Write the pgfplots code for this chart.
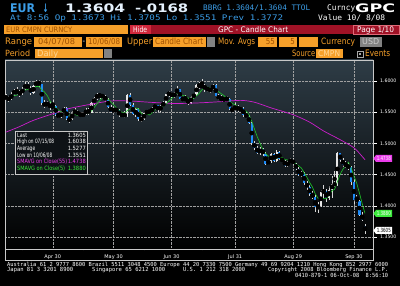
\documentclass[border=0pt]{standalone}
\usepackage{fontspec}
\setmainfont{DejaVu Sans}
\newfontfamily\bbm{DejaVu Sans Mono}
\usepackage{graphicx}
\usepackage{pgfplots}
\pgfplotsset{compat=1.18}
\usepackage{pgfplotstable}

\definecolor{bbblue}{RGB}{60,158,232}
\definecolor{bbwhite}{RGB}{228,240,252}
\definecolor{bbor}{RGB}{246,160,42}
\definecolor{bbortxt}{RGB}{160,80,0}
\definecolor{bbltxt}{RGB}{255,215,150}
\definecolor{bbred}{RGB}{160,18,38}
\definecolor{bbhide}{RGB}{210,40,60}
\definecolor{bbgray}{RGB}{130,130,130}
\definecolor{cblue}{RGB}{30,140,250}
\definecolor{cwhite}{RGB}{232,232,232}
\definecolor{cwick}{RGB}{215,215,215}
\definecolor{smaA}{RGB}{205,30,205}
\definecolor{smaB}{RGB}{30,200,40}
\definecolor{legA}{RGB}{235,60,235}
\definecolor{legB}{RGB}{60,235,60}
\definecolor{bgtop}{RGB}{46,60,70}
\definecolor{bgmid}{RGB}{26,34,40}
\definecolor{gridc}{RGB}{160,160,160}
\definecolor{framec}{RGB}{200,200,200}
\definecolor{legbg}{RGB}{14,18,22}

\newcommand\T[6]{\node[anchor=base west,inner sep=0pt,text=#5] at (#1,#2) {\resizebox{#3pt}{#4pt}{#6}};}
\newcommand\TR[6]{\node[anchor=base east,inner sep=0pt,text=#5] at (#1,#2) {\resizebox{#3pt}{#4pt}{#6}};}

\pgfplotstableread{
i o h l c s
0 1.5745 1.5790 1.5690 1.5725 1.5742
1 1.5725 1.5760 1.5670 1.5705 1.5735
2 1.5705 1.5820 1.5690 1.5795 1.5742
3 1.5795 1.5880 1.5760 1.5845 1.5764
4 1.5845 1.5910 1.5770 1.5805 1.5775
5 1.5805 1.5850 1.5750 1.5810 1.5792
6 1.5810 1.5900 1.5780 1.5870 1.5825
7 1.5870 1.5985 1.5850 1.5950 1.5856
8 1.5950 1.5980 1.5840 1.5885 1.5864
9 1.5885 1.5920 1.5780 1.5815 1.5866
10 1.5815 1.5940 1.5800 1.5915 1.5887
11 1.5915 1.6019 1.5900 1.6000 1.5913
12 1.6000 1.6015 1.5900 1.5945 1.5912
13 1.5945 1.5960 1.5610 1.5640 1.5863
14 1.5640 1.5690 1.5560 1.5615 1.5823
15 1.5615 1.5680 1.5590 1.5630 1.5766
16 1.5630 1.5670 1.5540 1.5570 1.5680
17 1.5570 1.5700 1.5550 1.5600 1.5611
18 1.5600 1.5620 1.5440 1.5455 1.5574
19 1.5455 1.5520 1.5400 1.5430 1.5537
20 1.5430 1.5510 1.5410 1.5490 1.5509
21 1.5490 1.5590 1.5470 1.5565 1.5508
22 1.5565 1.5580 1.5370 1.5390 1.5466
23 1.5390 1.5430 1.5330 1.5385 1.5452
24 1.5385 1.5520 1.5370 1.5485 1.5463
25 1.5485 1.5560 1.5460 1.5510 1.5467
26 1.5510 1.5530 1.5440 1.5470 1.5448
27 1.5470 1.5510 1.5420 1.5445 1.5459
28 1.5445 1.5500 1.5420 1.5475 1.5477
29 1.5475 1.5560 1.5450 1.5540 1.5488
30 1.5540 1.5560 1.5460 1.5495 1.5485
31 1.5495 1.5665 1.5480 1.5645 1.5520
32 1.5645 1.5750 1.5620 1.5730 1.5577
33 1.5730 1.5815 1.5700 1.5770 1.5636
34 1.5770 1.5800 1.5720 1.5775 1.5683
35 1.5775 1.5790 1.5720 1.5745 1.5733
36 1.5745 1.5780 1.5670 1.5700 1.5744
37 1.5700 1.5720 1.5570 1.5590 1.5716
38 1.5590 1.5610 1.5480 1.5505 1.5663
39 1.5505 1.5580 1.5490 1.5550 1.5618
40 1.5550 1.5570 1.5490 1.5530 1.5575
41 1.5530 1.5550 1.5420 1.5450 1.5525
42 1.5450 1.5500 1.5420 1.5460 1.5499
43 1.5460 1.5520 1.5400 1.5440 1.5486
44 1.5440 1.5790 1.5420 1.5770 1.5530
45 1.5770 1.5810 1.5600 1.5620 1.5548
46 1.5620 1.5640 1.5450 1.5465 1.5551
47 1.5465 1.5560 1.5430 1.5545 1.5568
48 1.5545 1.5560 1.5360 1.5385 1.5557
49 1.5385 1.5440 1.5340 1.5395 1.5482
50 1.5395 1.5500 1.5370 1.5480 1.5454
51 1.5480 1.5540 1.5450 1.5525 1.5466
52 1.5525 1.5550 1.5470 1.5495 1.5456
53 1.5495 1.5590 1.5480 1.5575 1.5494
54 1.5575 1.5630 1.5550 1.5610 1.5537
55 1.5610 1.5620 1.5510 1.5530 1.5547
56 1.5530 1.5620 1.5510 1.5595 1.5561
57 1.5595 1.5680 1.5580 1.5655 1.5593
58 1.5655 1.5800 1.5640 1.5790 1.5636
59 1.5790 1.5840 1.5750 1.5805 1.5675
60 1.5805 1.5830 1.5730 1.5760 1.5721
61 1.5760 1.5830 1.5720 1.5800 1.5762
62 1.5800 1.5915 1.5780 1.5865 1.5804
63 1.5865 1.5880 1.5690 1.5715 1.5789
64 1.5715 1.5740 1.5680 1.5710 1.5770
65 1.5710 1.5770 1.5680 1.5705 1.5759
66 1.5705 1.5720 1.5620 1.5645 1.5728
67 1.5645 1.5770 1.5630 1.5750 1.5705
68 1.5750 1.5810 1.5720 1.5780 1.5718
69 1.5780 1.5960 1.5760 1.5935 1.5763
70 1.5935 1.5980 1.5880 1.5910 1.5804
71 1.5910 1.6038 1.5890 1.5925 1.5860
72 1.5925 1.5960 1.5830 1.5880 1.5886
73 1.5880 1.5910 1.5830 1.5860 1.5902
74 1.5860 1.5900 1.5810 1.5865 1.5888
75 1.5865 1.5960 1.5850 1.5935 1.5893
76 1.5935 1.5950 1.5740 1.5760 1.5860
77 1.5760 1.5790 1.5690 1.5720 1.5828
78 1.5720 1.5770 1.5680 1.5700 1.5796
79 1.5700 1.5740 1.5670 1.5710 1.5765
80 1.5710 1.5760 1.5680 1.5705 1.5719
81 1.5705 1.5720 1.5530 1.5550 1.5677
82 1.5550 1.5590 1.5500 1.5525 1.5638
83 1.5525 1.5640 1.5510 1.5600 1.5618
84 1.5600 1.5610 1.5510 1.5530 1.5582
85 1.5530 1.5590 1.5500 1.5560 1.5553
86 1.5560 1.5580 1.5430 1.5460 1.5535
87 1.5460 1.5500 1.5400 1.5430 1.5516
88 1.5430 1.5460 1.5310 1.5330 1.5462
89 1.5330 1.5350 1.4980 1.5005 1.5357
90 1.5005 1.5040 1.4900 1.4925 1.5230
91 1.4925 1.4960 1.4830 1.4850 1.5108
92 1.4850 1.4940 1.4820 1.4910 1.5004
93 1.4910 1.4930 1.4800 1.4830 1.4904
94 1.4830 1.4860 1.4660 1.4675 1.4838
95 1.4675 1.4740 1.4650 1.4715 1.4796
96 1.4715 1.4840 1.4690 1.4825 1.4791
97 1.4825 1.4850 1.4700 1.4725 1.4754
98 1.4725 1.4890 1.4700 1.4860 1.4760
99 1.4860 1.4880 1.4730 1.4750 1.4775
100 1.4750 1.4770 1.4700 1.4725 1.4777
101 1.4725 1.4740 1.4620 1.4645 1.4741
102 1.4645 1.4720 1.4620 1.4700 1.4736
103 1.4700 1.4760 1.4680 1.4740 1.4712
104 1.4740 1.4760 1.4650 1.4670 1.4696
105 1.4670 1.4690 1.4570 1.4595 1.4670
106 1.4595 1.4620 1.4480 1.4500 1.4641
107 1.4500 1.4560 1.4460 1.4520 1.4605
108 1.4520 1.4540 1.4340 1.4360 1.4529
109 1.4360 1.4400 1.4260 1.4295 1.4454
110 1.4295 1.4330 1.4160 1.4185 1.4372
111 1.4185 1.4240 1.4110 1.4140 1.4300
112 1.4140 1.4170 1.3900 1.3980 1.4192
113 1.3980 1.4060 1.3890 1.4000 1.4120
114 1.4000 1.4250 1.3980 1.4220 1.4105
115 1.4220 1.4330 1.4130 1.4245 1.4117
116 1.4245 1.4270 1.4060 1.4120 1.4113
117 1.4120 1.4320 1.4090 1.4260 1.4169
118 1.4260 1.4480 1.4120 1.4350 1.4239
119 1.4350 1.4560 1.4300 1.4340 1.4263
120 1.4340 1.4865 1.4320 1.4840 1.4382
121 1.4840 1.4850 1.4700 1.4735 1.4505
122 1.4735 1.4770 1.4630 1.4660 1.4585
123 1.4660 1.4720 1.4610 1.4640 1.4643
124 1.4640 1.4680 1.4580 1.4620 1.4699
125 1.4620 1.4640 1.4340 1.4375 1.4606
126 1.4375 1.4420 1.4030 1.4095 1.4478
127 1.4095 1.4180 1.4050 1.4080 1.4362
128 1.4080 1.4100 1.3830 1.3850 1.4204
129 1.3850 1.3900 1.3750 1.3772 1.4034
130 1.3673 1.3705 1.3551 1.3605 1.3880
}\candles

\pgfplotstableread{
i v
0 1.518
5 1.527
10 1.537
18 1.549
23 1.556
31 1.563
38 1.568
45 1.568
52 1.566
61 1.564
70 1.565
78 1.567
85 1.569
90 1.566
96 1.557
104 1.546
110 1.534
115 1.520
121 1.506
126 1.493
129 1.479
130 1.4738
}\smaL

\begin{document}
\begin{tikzpicture}[x=1pt,y=1pt]
\useasboundingbox (0,0) rectangle (400,286);
\fill[black] (0,0) rectangle (400,286);

\begin{scope}[shift={(0,286)}, yscale=-1]
% ---- header row 1
\T{10}{12.7}{25}{8.7}{bbblue}{\bfseries EUR}
\T{42.5}{12.2}{6}{8.5}{bbblue}{\bfseries ↓}
\T{65}{12.7}{60}{8.7}{bbwhite}{\bfseries 1.3604}
\T{135}{12.7}{53}{8.7}{bbwhite}{\bfseries -.0168}
\T{203}{10.2}{107}{5.6}{bbblue}{\bbm BBRG 1.3604/1.3604 TTOL}
\T{327}{10.2}{28}{5.8}{white}{\bbm Curncy}
\T{355}{12.7}{40}{8.7}{white}{\bfseries GPC}
% ---- header row 2
\T{10}{20.8}{273}{5.8}{bbblue}{\bbm At 8:56 Op 1.3673 Hi 1.3705 Lo 1.3551 Prev 1.3772}
\T{318}{20.8}{67}{5.8}{white}{\bbm Value 10/ 8/08}
% ---- header row 3
\fill[bbor] (4,25) rectangle (128,34.5);
\T{6}{32.4}{66}{5.5}{bbortxt}{EUR CMPN CURNCY}
\fill[bbhide] (129.5,25) rectangle (151,34.5);
\T{133}{32.4}{14}{5.8}{white}{Hide}
\fill[bbred] (151,25) rectangle (400,34.5);
\T{218}{32.4}{70}{5.8}{white}{GPC - Candle Chart}
\draw[bbhide!70!white, line width=0.5pt] (353,25.5) rectangle (399.5,34);
\T{357}{32.4}{37}{5.8}{white}{Page 1/10}
% ---- header row 4
\T{5}{45}{27}{6.5}{bbor}{Range}
\fill[bbor] (34,37) rectangle (82,47);
\T{38}{45}{37}{6}{bbortxt}{04/07/08}
\node[text=white, inner sep=0pt, font=\fontsize{7}{7}\selectfont] at (84,42) {-};
\fill[bbor] (86,37) rectangle (122,47);
\T{88}{45}{32}{6}{bbortxt}{10/06/08}
\T{127}{45}{25}{6.5}{bbor}{Upper}
\fill[bbor] (153,37) rectangle (206,47);
\T{155}{45}{48}{6.5}{bbortxt}{Candle Chart}
\fill[bbgray] (206.5,37) rectangle (215,47);
\T{218}{45}{37}{6.5}{bbor}{Mov. Avgs}
\fill[bbor] (258,37) rectangle (277,47);
\TR{275}{45}{9}{6}{bbortxt}{55}
\fill[bbor] (279,37) rectangle (297,47);
\TR{295}{45}{4.5}{6}{bbortxt}{5}
\fill[bbor] (299,37) rectangle (318,47);
\T{321}{45}{34}{6.5}{bbor}{Currency}
\fill[bbgray] (360,37) rectangle (382,47);
\T{362}{45}{17}{6}{gray!40}{USD}
% ---- header row 5
\T{5}{56.8}{25}{6.5}{bbor}{Period}
\fill[bbor] (35,49) rectangle (103,58.5);
\T{37}{56.8}{21}{6.5}{bbltxt}{Daily}
\fill[bbgray] (104,49) rectangle (112,58.5);
\T{292}{56.8}{23}{6.5}{bbor}{Source}
\fill[bbor] (316,49) rectangle (343,58.5);
\T{318}{56.8}{22}{6}{bbltxt}{CMPN}
\draw[gray!70, line width=0.6pt, fill=black] (357,51) rectangle (363,57);
\fill[gray!70] (358.7,52.7) rectangle (361.3,55.3);
\T{365}{56.8}{25}{6.5}{bbor}{Events}
\end{scope}

% ---- chart
\begin{axis}[
  at={(5pt,37pt)}, anchor=south west,
  scale only axis, width=368pt, height=189pt,
  xmin=-0.3, xmax=132.9, ymin=1.3308, ymax=1.6337,
  axis background/.style={shade, top color=bgtop, middle color=bgmid, bottom color=black},
  axis line style={draw=framec, line width=0.6pt},
  xmajorgrids, ymajorgrids,
  major grid style={draw=gridc, densely dotted, line width=0.45pt},
  xtick={17,39,60,83,104,126},
  xticklabels={Apr 30,May 30,Jun 30,Jul 31,Aug 29,Sep 30},
  minor xtick={6,28,50,71,94,115},
  ytick={1.35,1.40,1.45,1.50,1.55,1.60},
  yticklabels={1.3500,1.4000,1.4500,1.5000,1.5500,1.6000},
  yticklabel pos=right, ytick pos=right, xtick pos=bottom,
  tick align=outside,
  major tick length=3.5pt,
  minor tick length=1.5pt,
  major x tick style={draw=none},
  minor x tick style={draw=framec, line width=0.5pt},
  ytick style={draw=white, line width=0.5pt},
  ticklabel style={text=white},
  xticklabel style={font=\fontsize{5}{6}\selectfont, yshift=1.5pt},
  yticklabel style={font=\fontsize{4.7}{5}\selectfont},
  /pgf/number format/assume math mode=true,
]
\addplot[only marks, mark=none,
  error bars/.cd, y dir=both, y explicit, error mark=none,
  error bar style={draw=cwick, line width=0.5pt}]
  table[x=i, y expr={(\thisrow{h}+\thisrow{l})/2}, y error expr={(\thisrow{h}-\thisrow{l})/2}] {\candles};
\addplot[only marks, mark=none,
  restrict expr to domain={\thisrow{c}-\thisrow{o}}{0:1},
  error bars/.cd, y dir=both, y explicit, error mark=none,
  error bar style={draw=cwhite, line width=2.1pt}]
  table[x=i, y expr={(\thisrow{o}+\thisrow{c})/2}, y error expr={max(abs(\thisrow{c}-\thisrow{o})/2,0.0003)}] {\candles};
\addplot[only marks, mark=none,
  restrict expr to domain={\thisrow{c}-\thisrow{o}}{-1:-0.00001},
  error bars/.cd, y dir=both, y explicit, error mark=none,
  error bar style={draw=cblue, line width=2.1pt}]
  table[x=i, y expr={(\thisrow{o}+\thisrow{c})/2}, y error expr={abs(\thisrow{c}-\thisrow{o})/2}] {\candles};
\addplot[smaA, line width=0.7pt, smooth, mark=none] table[x=i, y=v] {\smaL};
\addplot[smaB, line width=0.6pt, mark=none] table[x=i, y=s] {\candles};
\end{axis}

\begin{scope}[shift={(0,286)}, yscale=-1]
\draw[framec, line width=0.6pt] (5,249) -- (5,260) -- (373,260) -- (373,249);

% ---- legend box
\filldraw[fill=legbg, draw=framec, line width=0.5pt] (15,131) rectangle (87,174);
\T{17}{137.3}{10}{4.3}{white}{Last}
\TR{86}{137.3}{18}{4.3}{white}{1.3605}
\T{17}{143.9}{37}{4.5}{white}{High on 07/15/08}
\TR{86}{143.9}{18}{4.3}{white}{1.6038}
\T{17}{150.6}{18}{4.5}{white}{Average}
\TR{86}{150.6}{18}{4.3}{white}{1.5277}
\T{17}{157.2}{35}{4.5}{white}{Low on 10/06/08}
\TR{86}{157.2}{18}{4.3}{white}{1.3551}
\T{17}{163.9}{50}{4.5}{legA}{SMAVG on Close(55)}
\TR{86}{163.9}{18}{4.3}{legA}{1.4738}
\T{17}{170.5}{48}{4.5}{legB}{SMAVG on Close(5)}
\TR{86}{170.5}{18}{4.3}{legB}{1.3880}

% ---- right value tags
\fill[legA] (373.5,158.5) -- (376,155) -- (392,155) -- (392,162) -- (376,162) -- cycle;
\TR{391}{160.6}{14}{4.2}{white}{1.4738}
\fill[legB] (373.5,213.5) -- (376,210) -- (392,210) -- (392,217) -- (376,217) -- cycle;
\TR{391}{215.6}{14}{4.2}{white}{1.3880}
\fill[white] (373.5,230.5) -- (376,227) -- (392,227) -- (392,234) -- (376,234) -- cycle;
\TR{391}{232.6}{14}{4.2}{black}{1.3605}

% ---- footer
\T{7}{266.3}{381}{4.2}{white}{\bbm Australia 61 2 9777 8600 Brazil 5511 3048 4500 Europe 44 20 7330 7500 Germany 49 69 9204 1210 Hong Kong 852 2977 6000}
\T{7}{271.8}{66}{4.2}{white}{\bbm Japan 81 3 3201 8900}
\T{92}{271.8}{73}{4.2}{white}{\bbm Singapore 65 6212 1000}
\T{183}{271.8}{62}{4.2}{white}{\bbm U.S. 1 212 318 2000}
\T{268}{271.8}{120}{4.2}{white}{\bbm Copyright 2008 Bloomberg Finance L.P.}
\T{295}{277.3}{93}{4.2}{white}{\bbm 0410-879-1 06-Oct-08 \ 8:56:10}
\end{scope}
\end{tikzpicture}
\end{document}
